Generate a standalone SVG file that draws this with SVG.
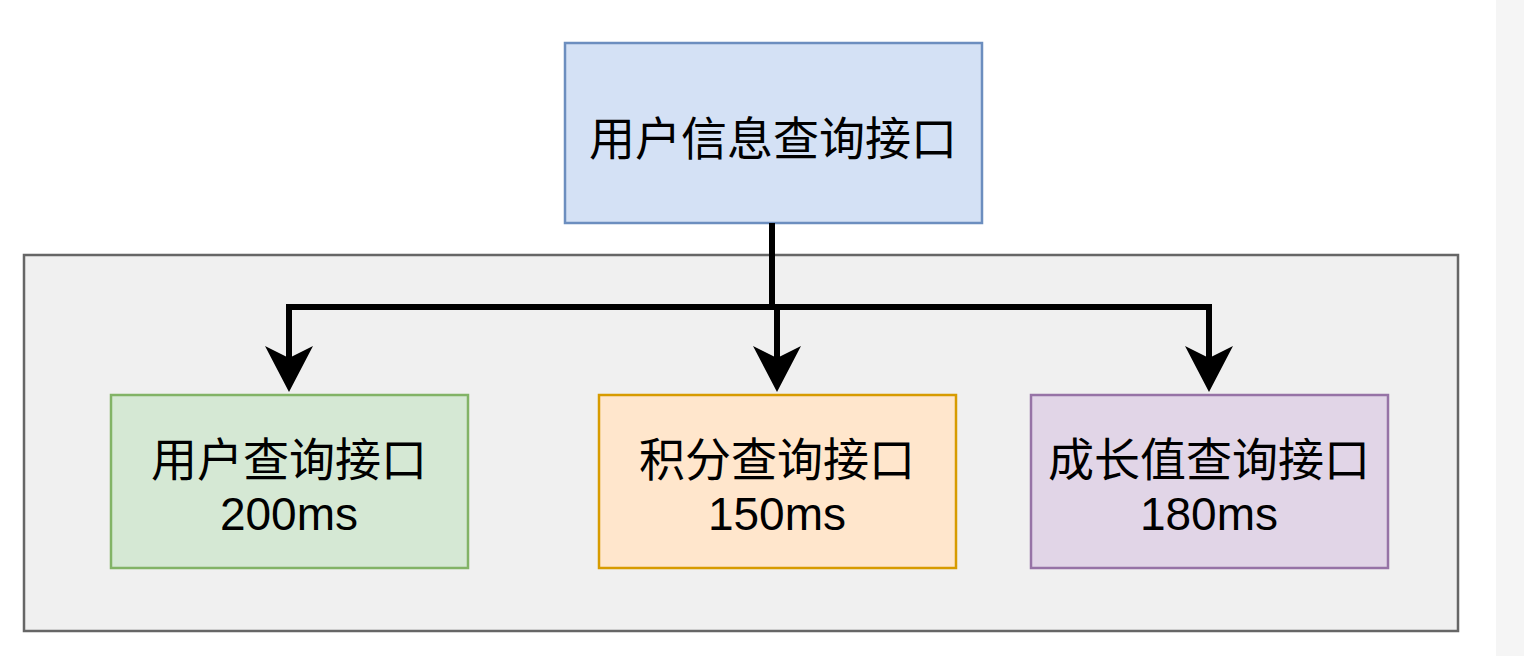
<svg xmlns="http://www.w3.org/2000/svg" width="1524" height="656" viewBox="0 0 1524 656">
<style>
text{font-family:"Liberation Sans","Noto Sans CJK SC",sans-serif;font-size:46px;fill:#000;text-anchor:middle}
.n{stroke-width:2.5}
.c{fill:none;stroke:#000;stroke-width:6}
</style>
<defs><marker id="a" markerUnits="userSpaceOnUse" markerWidth="48" markerHeight="48" refX="34" refY="24" orient="auto"><path d="M0,0 L46,24 L0,48 L12,24 Z" fill="#000"/></marker></defs>
<rect width="1524" height="656" fill="#fff"/>
<rect x="1496" y="0" width="28" height="656" fill="#f5f5f5"/>
<g id="container"><rect x="24" y="255" width="1434" height="376" fill="#f0f0f0" stroke="#666" stroke-width="2.5"/></g>
<g id="top"><rect class="n" x="565" y="43" width="417" height="180" fill="#d4e1f5" stroke="#6c8ebf"/><text x="773" y="155">用户信息查询接口</text></g>
<g id="user"><rect class="n" x="111" y="395" width="357" height="173" fill="#d5e8d4" stroke="#82b366"/><text x="289" y="476">用户查询接口</text><text x="289" y="530">200ms</text></g>
<g id="points"><rect class="n" x="599" y="395" width="357" height="173" fill="#ffe6cc" stroke="#d79b00"/><text x="777" y="476">积分查询接口</text><text x="777" y="530">150ms</text></g>
<g id="growth"><rect class="n" x="1031" y="395" width="357" height="173" fill="#e1d5e7" stroke="#9673a6"/><text x="1209" y="476">成长值查询接口</text><text x="1209" y="530">180ms</text></g>
<g id="connectors">
<path class="c" d="M772,223 V307 H289 V380" marker-end="url(#a)"/>
<path class="c" d="M772,223 V307 H777 V380" marker-end="url(#a)"/>
<path class="c" d="M772,307 H1209 V380" marker-end="url(#a)"/>
</g>
</svg>
